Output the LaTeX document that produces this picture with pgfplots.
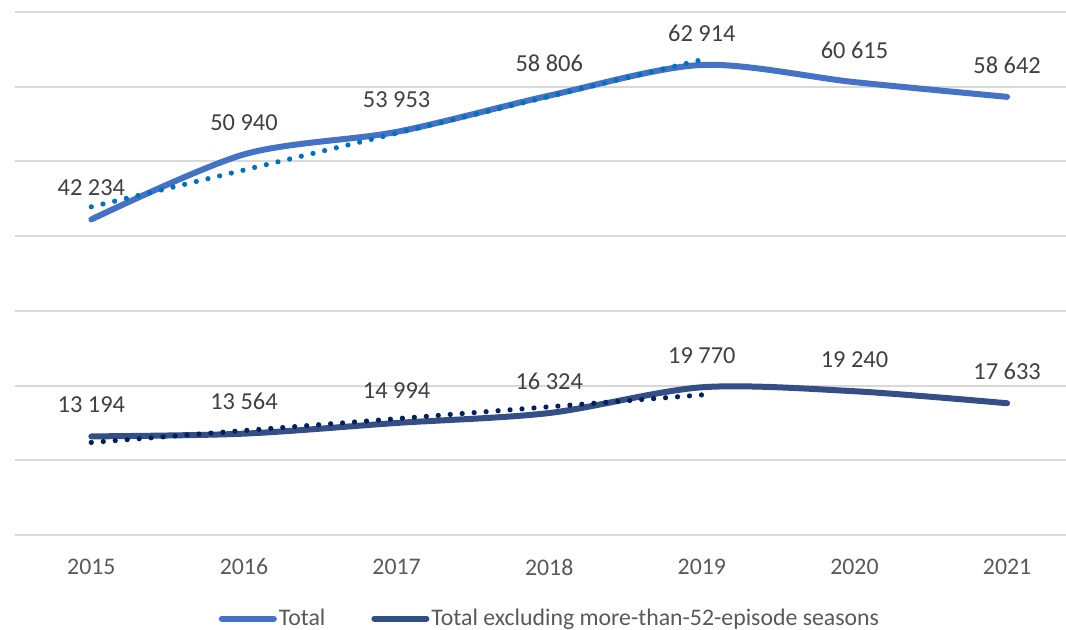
\documentclass[border=0pt]{standalone}
\usepackage{fontspec}
\setmainfont{Carlito}
\usepackage{pgfplots}
\pgfplotsset{compat=1.18}
\definecolor{tot}{HTML}{4472C4}
\definecolor{excl}{HTML}{344E86}
\definecolor{trtot}{HTML}{0070C0}
\definecolor{trexcl}{HTML}{002060}
\definecolor{gridc}{HTML}{D9D9D9}
\definecolor{labc}{HTML}{404040}
\definecolor{tickc}{HTML}{595959}
\begin{document}
\fontsize{11.9}{14}\selectfont
\begin{tikzpicture}
\begin{axis}[
  at={(0,0)}, anchor=south west,
  scale only axis, width=525.5pt, height=261.5pt,
  xmin=-0.5, xmax=6.386, ymin=0, ymax=70000,
  axis line style={draw=none},
  ytick={0,10000,...,70000}, yticklabel=\empty,
  ymajorgrids, major grid style={line width=1pt, color=gridc},
  tick style={draw=none},
  xtick={0,...,6},
  xticklabels={2015,2016,2017,2018,2019,2020,2021},
  xticklabel style={anchor=center, yshift=-16pt, text=tickc, font=\fontsize{11.9}{14}\selectfont},
  clip=false,
  legend columns=2,
  legend style={at={(axis description cs:0.509,-0.160)}, anchor=center, draw=none,
    font=\fontsize{11.9}{14}\selectfont, text=tickc,
    /tikz/every even column/.append style={column sep=22pt},
    nodes={inner sep=1pt}},
  legend image code/.code={\draw[#1, line width=3pt, line cap=round] (0,0) -- (26pt,0);},
  lbl/.style={nodes near coords, point meta=explicit symbolic,
    every node near coord/.append style={anchor=center, yshift=16pt, text=labc, font=\fontsize{12.2}{14}\selectfont}},
]
\addplot[tot, line width=3pt, line cap=round, smooth, tension=0.5, lbl] coordinates {
  (0,42234) [42 234]
  (1,50940) [50 940]
  (2,53953) [53 953]
  (3,58806) [58 806]
  (4,62914) [62 914]
  (5,60615) [60 615]
  (6,58642) [58 642]
};
\addlegendentry{Total}
\addplot[excl, line width=3pt, line cap=round, smooth, tension=0.5, lbl] coordinates {
  (0,13194) [13 194]
  (1,13564) [13 564]
  (2,14994) [14 994]
  (3,16324) [16 324]
  (4,19770) [19 770]
  (5,19240) [19 240]
  (6,17633) [17 633]
};
\addlegendentry{Total excluding more-than-52-episode seasons}
\addplot[trtot, line width=2.6pt, line cap=round, dash pattern=on 0pt off 6pt, forget plot] coordinates {
  (0,43924.2) (1,48846.8) (2,53769.4) (3,58692.0) (4,63614.6)
};
\addplot[trexcl, line width=2.6pt, line cap=round, dash pattern=on 0pt off 6pt, forget plot] coordinates {
  (0,12386.8) (1,13978.0) (2,15569.2) (3,17160.4) (4,18751.6)
};
\end{axis}
\pgfresetboundingbox
\useasboundingbox (-7.5pt,-47.5pt) rectangle (525.5pt,267.5pt);
\end{tikzpicture}
\end{document}
